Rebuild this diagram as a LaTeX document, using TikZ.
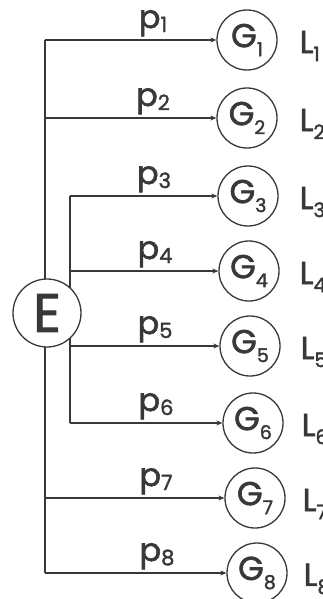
\documentclass[tikz,border=0pt]{standalone}
\usepackage{fontspec}
\setmainfont{Poppins}[FakeBold=1.8]
\usetikzlibrary{arrows.meta}
\definecolor{ink}{HTML}{383838}
\newcommand{\glab}[1]{{\fontsize{33}{33}\selectfont G}\raisebox{-9pt}{\fontsize{19}{19}\selectfont #1}}
\newcommand{\plab}[1]{{\fontsize{32}{32}\selectfont p}\raisebox{-4pt}{\fontsize{21}{21}\selectfont #1}}
\newcommand{\llab}[1]{{\fontsize{32}{32}\selectfont L}\raisebox{-8pt}{\fontsize{20}{20}\selectfont #1}}
\begin{document}
\begin{tikzpicture}[x=1pt,y=-1pt,line width=1.3pt,color=ink,
  gnode/.style={circle,draw,fill=white,minimum size=60pt,inner sep=0pt},
  enode/.style={circle,draw,fill=white,minimum size=68pt,inner sep=0pt,font=\fontsize{54}{54}\selectfont},
  arr/.style={-{Stealth[length=6pt,width=5pt]}},
  ptext/.style={anchor=south,inner sep=0pt},
  ltext/.style={anchor=west,inner sep=0pt}]
\useasboundingbox (0,0) rectangle (322,599);
% trunk coordinates
\coordinate (o1) at (45,40);
\coordinate (o2) at (45,118);
\coordinate (o7) at (45,498);
\coordinate (o8) at (45,573);
\coordinate (i3) at (70,196);
\coordinate (i4) at (70,271);
\coordinate (i5) at (70,346);
\coordinate (i6) at (70,423);
\draw (o1) -- (o8);
\draw (i3) -- (i6);
\node[enode] (E) at (47,313) {E};
% G nodes
\node[gnode] (G1) at (247,40)  {\glab{1}};
\node[gnode] (G2) at (247,118) {\glab{2}};
\node[gnode] (G3) at (248,196) {\glab{3}};
\node[gnode] (G4) at (249,271) {\glab{4}};
\node[gnode] (G5) at (250,346) {\glab{5}};
\node[gnode] (G6) at (253,423) {\glab{6}};
\node[gnode] (G7) at (255,498) {\glab{7}};
\node[gnode] (G8) at (257,573) {\glab{8}};
% arrows
\draw[arr] (o1) -- (G1);
\draw[arr] (o2) -- (G2);
\draw[arr] (i3) -- (G3);
\draw[arr] (i4) -- (G4);
\draw[arr] (i5) -- (G5);
\draw[arr] (i6) -- (G6);
\draw[arr] (o7) -- (G7);
\draw[arr] (o8) -- (G8);
% p labels
\node[ptext] (p1) at (153,37)  {\plab{1}};
\node[ptext] (p2) at (153,115) {\plab{2}};
\node[ptext] (p3) at (154,193) {\plab{3}};
\node[ptext] (p4) at (155,268) {\plab{4}};
\node[ptext] (p5) at (155,343) {\plab{5}};
\node[ptext] (p6) at (156,420) {\plab{6}};
\node[ptext] (p7) at (156,495) {\plab{7}};
\node[ptext] (p8) at (157,570) {\plab{8}};
% L labels
\node[ltext] (L1) at (299,46)  {\llab{1}};
\node[ltext] (L2) at (299,124) {\llab{2}};
\node[ltext] (L3) at (299,202) {\llab{3}};
\node[ltext] (L4) at (299,277) {\llab{4}};
\node[ltext] (L5) at (300,352) {\llab{5}};
\node[ltext] (L6) at (301,429) {\llab{6}};
\node[ltext] (L7) at (302,504) {\llab{7}};
\node[ltext] (L8) at (303,579) {\llab{8}};
\end{tikzpicture}
\end{document}
